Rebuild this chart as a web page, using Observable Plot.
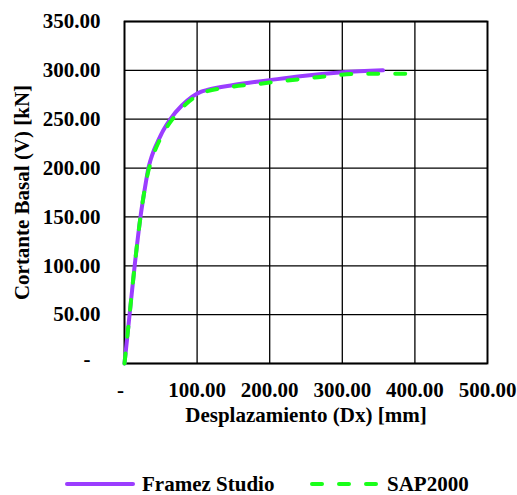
<!DOCTYPE html>
<html>
<head>
<meta charset="utf-8">
<script src="https://cdn.jsdelivr.net/npm/d3@7"></script>
<script src="https://cdn.jsdelivr.net/npm/@observablehq/plot@0.6"></script>
<style>
  html, body { margin: 0; padding: 0; background: #fff; }
  #chart { width: 517px; }
  .legend { position: relative; height: 55px; font-family: "Liberation Serif", "Times New Roman", serif; font-weight: bold; font-size: 21px; line-height: 16px; color: #000; }
  .legend .item { position: absolute; top: 36px; height: 16px; display: flex; align-items: center; }
  .legend .swatch { margin-right: 7px; }
</style>
</head>
<body>
<div id="chart"></div>
<script>
// Series (Desplazamiento Dx [mm], Cortante Basal V [kN])
const framezX = [0, 7, 14, 22, 29.8, 32.6, 35.8, 40.4, 46.4, 53.3, 63.4, 79, 105, 114, 150, 200, 242, 300, 356];
const framezY = [0, 50, 100, 150, 187, 199, 208, 218, 228, 238.5, 250.4, 264, 278, 280, 285, 290, 294, 298, 300];
const sapX = [0, 7, 14, 22, 30, 33.5, 37, 41.5, 48, 55, 66, 84, 100, 108, 146, 183, 217, 254, 291, 327, 366, 400];
const sapY = [0, 50, 100, 150, 187, 199, 207, 217, 228, 238, 250, 265, 274, 277, 283, 286, 289, 292, 295, 296.5, 296.5, 296.5];
const seriesNames = ["Framez Studio", "SAP2000"];
const seriesColors = ["#9b3dff", "#19ff19"];
const xTicks = [0, 100, 200, 300, 400, 500];
const yTicks = [0, 50, 100, 150, 200, 250, 300, 350];
const xLabel = "Desplazamiento (Dx) [mm]";
const yLabel = "Cortante Basal (V) [kN]";

const framez = framezX.map((x, i) => ({x, y: framezY[i]}));
const sap = sapX.map((x, i) => ({x, y: sapY[i]}));
const fmt = d => d === 0 ? "-" : d3.format(",.2f")(d);
const font = "Liberation Serif, Times New Roman, serif";

const chart = Plot.plot({
  width: 517,
  height: 440,
  marginLeft: 124,
  marginRight: 30,
  marginTop: 21,
  marginBottom: 77,
  style: {fontFamily: font, fontWeight: "bold", fontSize: "21px", color: "#000", background: "#fff"},
  x: {domain: [0, 500], label: null},
  y: {domain: [0, 350], label: null},
  marks: [
    Plot.gridX(xTicks, {stroke: "#000", strokeOpacity: 1, strokeWidth: 1.3}),
    Plot.gridY(yTicks, {stroke: "#000", strokeOpacity: 1, strokeWidth: 1.3}),
    Plot.frame({stroke: "#000", strokeWidth: 1.8}),
    Plot.axisX(xTicks.filter(d => d !== 0), {tickSize: 0, tickPadding: 19, tickFormat: fmt, fontSize: 21}),
    Plot.axisX([0], {tickSize: 0, tickPadding: 19, tickFormat: fmt, dx: -4, fontSize: 21}),
    Plot.axisY(yTicks.filter(d => d !== 0), {tickSize: 0, tickPadding: 24, tickFormat: fmt, fontSize: 21}),
    Plot.axisY([0], {tickSize: 0, tickPadding: 34, tickFormat: fmt, dy: -4, fontSize: 21}),
    Plot.text([xLabel], {frameAnchor: "bottom", dy: 58, text: d => d, fontSize: 21, fontWeight: "bold", fill: "#000"}),
    Plot.text([yLabel], {frameAnchor: "left", dx: -102, rotate: -90, textAnchor: "middle", text: d => d, fontSize: 21, fontWeight: "bold", fill: "#000"}),
    Plot.line(framez, {x: "x", y: "y", stroke: seriesColors[0], strokeWidth: 4, curve: "monotone-x"}),
    Plot.line(sap, {x: "x", y: "y", stroke: seriesColors[1], strokeWidth: 4, strokeDasharray: "10,17", strokeLinecap: "round", curve: "monotone-x"})
  ]
});
document.getElementById("chart").appendChild(chart);

// Legend
const legend = document.createElement("div");
legend.className = "legend";
const positions = [65, 310];
seriesNames.forEach((name, i) => {
  const item = document.createElement("div");
  item.className = "item";
  item.style.left = positions[i] + "px";
  const svgNS = "http://www.w3.org/2000/svg";
  const sw = document.createElementNS(svgNS, "svg");
  sw.setAttribute("width", 70);
  sw.setAttribute("height", 10);
  sw.setAttribute("class", "swatch");
  const ln = document.createElementNS(svgNS, "line");
  ln.setAttribute("x1", 2); ln.setAttribute("x2", 68);
  ln.setAttribute("y1", 5); ln.setAttribute("y2", 5);
  ln.setAttribute("stroke", seriesColors[i]);
  ln.setAttribute("stroke-width", 4);
  ln.setAttribute("stroke-linecap", "round");
  if (i === 1) ln.setAttribute("stroke-dasharray", "10,17");
  sw.appendChild(ln);
  const t = document.createElement("span");
  t.textContent = name;
  item.appendChild(sw);
  item.appendChild(t);
  legend.appendChild(item);
});
document.body.appendChild(legend);
</script>
</body>
</html>
